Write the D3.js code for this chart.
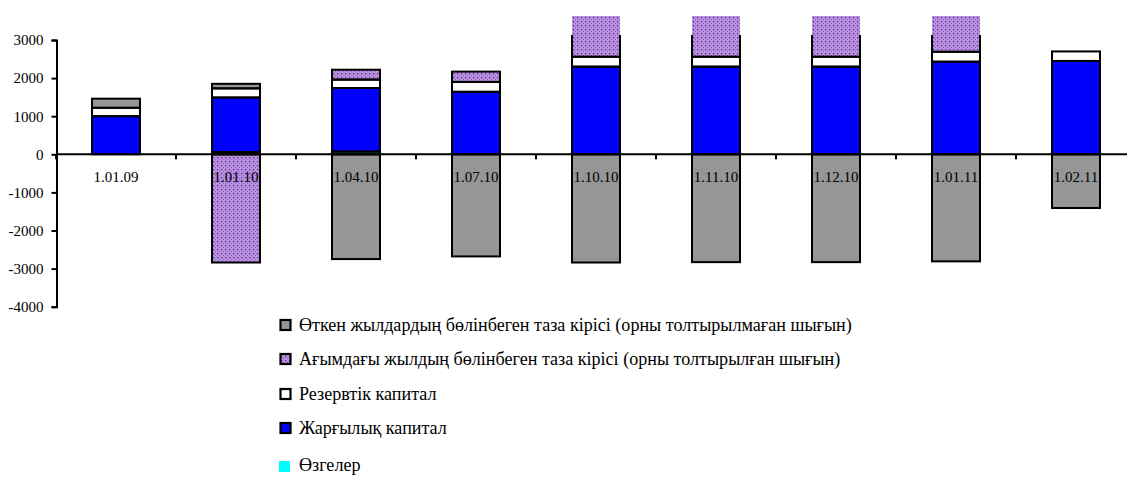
<!DOCTYPE html>
<html><head><meta charset="utf-8">
<script src="https://cdn.jsdelivr.net/npm/d3@7"></script>
</head>
<body style="margin:0;background:#fff"><svg id="c" width="1127" height="477"></svg>
<script>
const categories = ["1.01.09","1.01.10","1.04.10","1.07.10","1.10.10","1.11.10","1.12.10","1.01.11","1.02.11"];
const other    = [0, 60, 70, 0, 0, 0, 0, 0, 0];
const charter  = [1000, 1430, 1670, 1640, 2300, 2300, 2300, 2430, 2450];
const reserve  = [220, 240, 220, 260, 260, 260, 260, 260, 250];
const current  = [0, -2840, 260, 270, 1200, 1200, 1200, 1200, 0];
const prior    = [240, 120, -2750, -2680, -2840, -2830, -2830, -2810, -1410];
const yTicks   = [3000, 2000, 1000, 0, -1000, -2000, -3000, -4000];
const seriesNames = {
  prior: "Өткен жылдардың бөлінбеген таза кірісі (орны толтырылмаған шығын)",
  current: "Ағымдағы жылдың бөлінбеген таза кірісі (орны толтырылған шығын)",
  reserve: "Резервтік капитал",
  charter: "Жарғылық капитал",
  other: "Өзгелер"
};
const keys = ["other","charter","reserve","current","prior"];
const legendOrder = ["prior","current","reserve","charter","other"];
const FONT = "Liberation Serif";

const svg = d3.select("#c");
const defs = svg.append("defs");
const pat = defs.append("pattern").attr("id","dots").attr("patternUnits","userSpaceOnUse")
  .attr("width",4).attr("height",4);
pat.append("rect").attr("width",4).attr("height",4).attr("fill","#b98fe6");
pat.append("rect").attr("x",1).attr("y",1).attr("width",1.3).attr("height",1.3).attr("fill","#5a3a6e");
pat.append("rect").attr("x",3).attr("y",3).attr("width",1).attr("height",1).attr("fill","#8a66b0");
defs.append("clipPath").attr("id","clipFill").append("rect").attr("x",0).attr("y",16).attr("width",1127).attr("height",460);
defs.append("clipPath").attr("id","clipStroke").append("rect").attr("x",0).attr("y",35).attr("width",1127).attr("height",440);

const fills = {other:"#00ffff", charter:"#0000ff", reserve:"#ffffff", current:"url(#dots)", prior:"#969696"};

const table = categories.map((c,i)=>({cat:c, other:other[i], charter:charter[i], reserve:reserve[i], current:current[i], prior:prior[i]}));
const stacked = d3.stack().keys(keys).offset(d3.stackOffsetDiverging)(table);

const x = d3.scaleBand().domain(categories).range([56,1136]).paddingInner(0.6).paddingOuter(0.3);
const y = d3.scaleLinear().domain([-4000,3000]).range([306.7,40]);

const gF = svg.append("g").attr("clip-path","url(#clipFill)");
stacked.forEach(s=>{
  gF.selectAll(null).data(s.filter(d=>d[1]!==d[0])).enter().append("rect")
    .attr("x",d=>x(d.data.cat)).attr("width",x.bandwidth())
    .attr("y",d=>y(Math.max(d[0],d[1]))).attr("height",d=>Math.abs(y(d[0])-y(d[1])))
    .attr("fill",fills[s.key]);
});
const gS = svg.append("g").attr("clip-path","url(#clipStroke)");
stacked.forEach(s=>{
  gS.selectAll(null).data(s.filter(d=>d[1]!==d[0])).enter().append("rect")
    .attr("x",d=>x(d.data.cat)).attr("width",x.bandwidth())
    .attr("y",d=>y(Math.max(d[0],d[1]))).attr("height",d=>Math.abs(y(d[0])-y(d[1])))
    .attr("fill","none").attr("stroke","#000").attr("stroke-width",2);
});

const yAx = svg.append("g").attr("transform","translate(56.5,0)")
  .call(d3.axisLeft(y).tickValues(yTicks).tickSize(5).tickPadding(8).tickFormat(d=>String(d)));
yAx.attr("font-family",FONT);
yAx.select(".domain").attr("stroke-width",2);
yAx.selectAll(".tick line").attr("stroke-width",2);
yAx.selectAll("text").style("font-family",FONT).style("font-size","15px").attr("fill","#000");

const gap = (x.step()-x.bandwidth())/2;
const bounds = categories.map(c=>x(c)-gap).concat([x(categories[categories.length-1])+x.bandwidth()+gap]);
svg.append("line").attr("x1",56).attr("x2",1127).attr("y1",y(0)).attr("y2",y(0)).attr("stroke","#000").attr("stroke-width",2);
svg.selectAll(".bt").data(bounds).enter().append("line")
  .attr("x1",d=>d).attr("x2",d=>d).attr("y1",y(0)).attr("y2",y(0)+5).attr("stroke","#000").attr("stroke-width",2);

const xAx = svg.append("g").attr("transform",`translate(0,${y(0)})`)
  .call(d3.axisBottom(x).tickSize(0).tickPadding(17));
xAx.attr("font-family",FONT);
xAx.select(".domain").remove();
xAx.selectAll("text").style("font-family",FONT).style("font-size","15px").attr("fill","#000");

// fit legend font so the first line spans the same width as in the reference
const probe = svg.append("text").style("font-family",FONT).style("font-size","17px")
  .text(seriesNames.prior);
const w = probe.node().getComputedTextLength();
probe.remove();
let lfs = w > 0 ? 17 * 553 / w : 17;
lfs = Math.max(14, Math.min(19, lfs));

const lg = svg.append("g").attr("font-family",FONT);
const rowsY = [325, 359, 394, 428, 465];
legendOrder.forEach((k,i)=>{
  const g = lg.append("g").attr("transform",`translate(0,${rowsY[i]})`);
  if(k==="other"){
    g.append("rect").attr("x",279).attr("y",-4).attr("width",11).attr("height",11).attr("fill",fills[k]);
  } else {
    g.append("rect").attr("x",280.5).attr("y",-5).attr("width",10).attr("height",10)
      .attr("fill",fills[k]).attr("stroke","#000").attr("stroke-width",2.2);
  }
  g.append("text").attr("x",299).attr("y",0).attr("dy","0.35em")
    .style("font-family",FONT).style("font-size",lfs+"px").attr("fill","#000").text(seriesNames[k]);
});
</script></body></html>
